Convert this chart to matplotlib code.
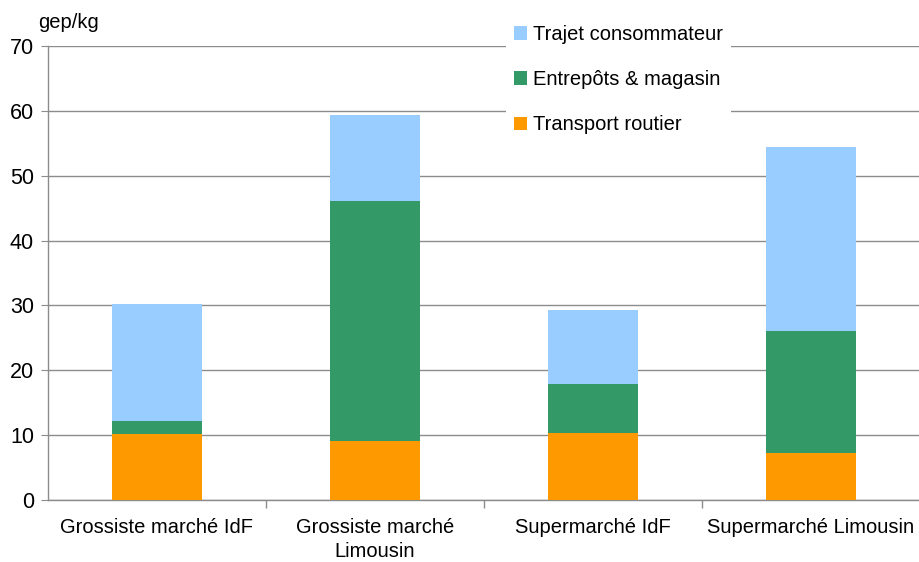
import matplotlib.pyplot as plt
from matplotlib.patches import Patch
import numpy as np

plt.rcParams['font.family'] = ['Liberation Sans', 'DejaVu Sans']

# --- data ---
categories = ['Grossiste marché IdF', 'Grossiste marché\nLimousin',
              'Supermarché IdF', 'Supermarché Limousin']
transport = [10.2, 9.1, 10.3, 7.2]
entrepots = [2.0, 37.0, 7.6, 18.8]
trajet = [18.0, 13.3, 11.4, 28.4]

series_names = ['Transport routier', 'Entrepôts & magasin', 'Trajet consommateur']
colors = ['#ff9900', '#339966', '#99ccff']

fig = plt.figure(figsize=(9.2, 5.62), dpi=100)
ax = fig.add_axes([48 / 920, 1 - 500 / 562, 1 - 48 / 920, (500 - 46) / 562])

x = np.arange(len(categories))
width = 0.41
bottom = np.zeros(len(categories))
for vals, col in zip([transport, entrepots, trajet], colors):
    ax.bar(x, vals, width, bottom=bottom, color=col, zorder=3)
    bottom += np.array(vals)

ax.set_xlim(-0.5, 3.5)
ax.set_ylim(0, 70)
ax.set_yticks(np.arange(0, 71, 10))
ax.yaxis.grid(True, color='#8c8c8c', linewidth=1, zorder=0)

# category labels centred, tick marks on category boundaries
ax.set_xticks(x)
ax.set_xticklabels(categories, fontsize=14.5, linespacing=1.3)
ax.tick_params(axis='x', which='major', length=0, pad=13)
ax.set_xticks([0.5, 1.5, 2.5], minor=True)
ax.tick_params(axis='x', which='minor', length=6, color='#8c8c8c', width=1)
ax.tick_params(axis='y', length=5, color='#8c8c8c', labelsize=15.5, pad=5)

for side in ['top', 'right']:
    ax.spines[side].set_visible(False)
for side in ['left', 'bottom']:
    ax.spines[side].set_color('#8c8c8c')
    ax.spines[side].set_linewidth(1)

fig.text(38 / 920, 1 - 23 / 562, 'gep/kg', fontsize=14.5, va='center', ha='left')

# legend (reverse order: top series first)
handles = [Patch(facecolor=c, edgecolor='none') for c in colors[::-1]]
leg = ax.legend(handles, series_names[::-1], loc='upper left',
                bbox_to_anchor=(506 / 920, 1 - 17 / 562), bbox_transform=fig.transFigure,
                frameon=True, facecolor='white', edgecolor='none', framealpha=1,
                fontsize=14.5, handlelength=0.65, handleheight=0.65, handletextpad=0.3,
                labelspacing=1.3, borderpad=0.4, borderaxespad=0)
leg.set_zorder(5)

fig.savefig('out.png', dpi=100)
